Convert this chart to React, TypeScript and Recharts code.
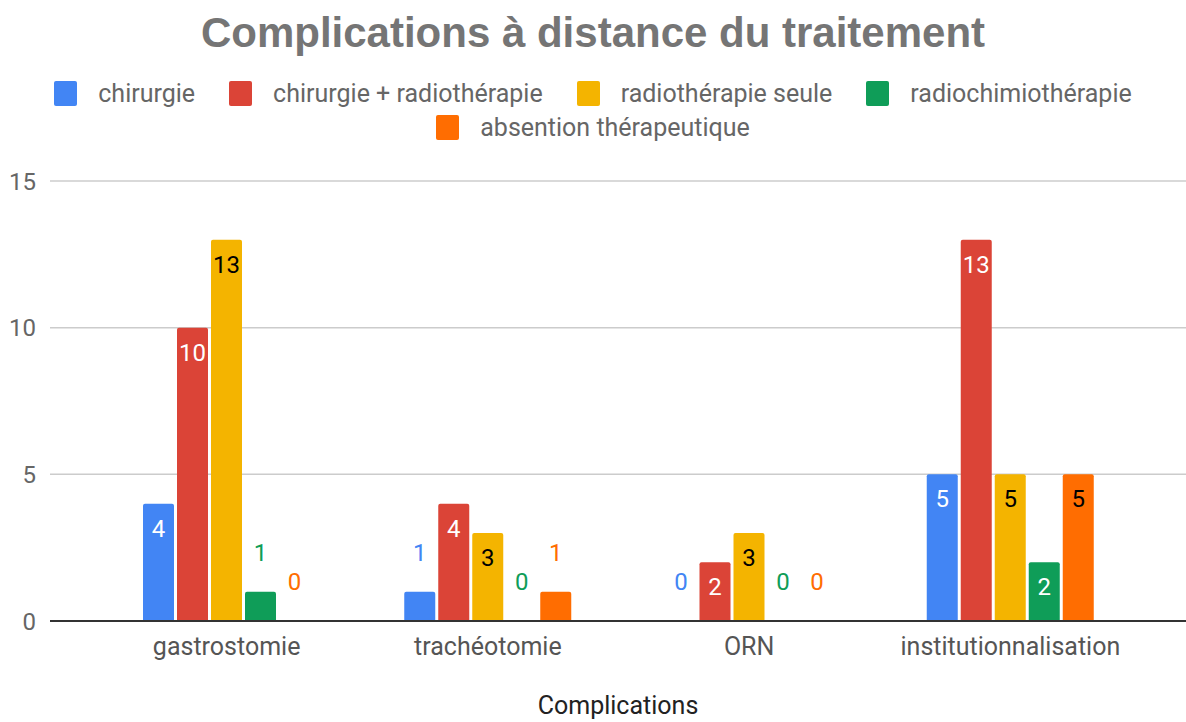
import { Bar, BarChart, CartesianGrid, LabelList, Legend, ReferenceLine, XAxis, YAxis } from 'recharts';

const categories = ['gastrostomie', 'trachéotomie', 'ORN', 'institutionnalisation'];
const chirurgie = [4, 1, 0, 5];
const chirurgieRadio = [10, 4, 2, 13];
const radioSeule = [13, 3, 3, 5];
const radiochimio = [1, 0, 0, 2];
const abstention = [0, 1, 0, 5];
const yTicks = [0, 5, 10, 15];

const series = [
  { key: 'chirurgie', name: 'chirurgie', values: chirurgie, color: '#4285F4', ink: '#ffffff' },
  { key: 'chirRadio', name: 'chirurgie + radiothérapie', values: chirurgieRadio, color: '#DB4437', ink: '#ffffff' },
  { key: 'radioSeule', name: 'radiothérapie seule', values: radioSeule, color: '#F4B400', ink: '#000000' },
  { key: 'radiochimio', name: 'radiochimiothérapie', values: radiochimio, color: '#0F9D58', ink: '#ffffff' },
  { key: 'abstention', name: 'absention thérapeutique', values: abstention, color: '#FF6D01', ink: '#000000' },
];

const data = categories.map((name, i) => {
  const row: Record<string, string | number> = { name };
  series.forEach((s) => (row[s.key] = s.values[i]));
  return row;
});

const font = 'Roboto, "Noto Sans", sans-serif';

// values >= 2 sit inside the bar top, smaller ones float above it in the bar colour
const makeLabel = (color: string, ink: string) => (props: any) => {
  const { x, y, width, height, value } = props;
  const top = Number(y) + Math.min(0, Number(height));
  const inside = Number(value) >= 2;
  return (
    <text
      x={Number(x) + Number(width) / 2}
      y={inside ? top + 33 : top - 31}
      textAnchor="middle"
      fontFamily={font}
      fontSize={24}
      fill={inside ? ink : color}
    >
      {value}
    </text>
  );
};

function LegendBox() {
  return (
    <div
      style={{
        width: 1140,
        margin: '0 auto',
        display: 'flex',
        flexWrap: 'wrap',
        justifyContent: 'center',
        rowGap: 9,
        fontFamily: font,
        fontSize: 25,
        color: '#666666',
      }}
    >
      {series.map((s) => (
        <div key={s.key} style={{ display: 'flex', alignItems: 'center', margin: '0 17px', height: 25 }}>
          <span style={{ width: 23, height: 25, background: s.color, borderRadius: 2, marginRight: 21 }} />
          <span>{s.name}</span>
        </div>
      ))}
    </div>
  );
}

export default function App() {
  return (
    <div style={{ position: 'absolute', left: 0, top: 0, width: 1186, height: 722, background: '#fff' }}>
      <div
        style={{
          position: 'absolute',
          top: 8,
          width: 1186,
          textAlign: 'center',
          fontFamily: '"Liberation Sans", Arial, sans-serif',
          fontWeight: 'bold',
          fontSize: 42,
          color: '#757575',
          lineHeight: '50px',
        }}
      >
        Complications à distance du traitement
      </div>
      <BarChart
        width={1186}
        height={722}
        data={data}
        margin={{ top: 81, right: 0, left: 0, bottom: 0 }}
        barSize={31}
        barGap={3}
      >
        <Legend
          verticalAlign="top"
          align="center"
          wrapperStyle={{ left: 0, width: 1186, height: 100 }}
          content={() => <LegendBox />}
        />
        <CartesianGrid vertical={false} stroke="#cccccc" strokeWidth={1.5} />
        <XAxis
          dataKey="name"
          height={101}
          padding={{ left: 46, right: 45 }}
          axisLine={false}
          tickLine={false}
          tickMargin={10}
          tick={{ fontFamily: font, fontSize: 25, fill: '#555555' }}
          label={{
            value: 'Complications',
            position: 'insideBottom',
            offset: 8,
            style: { fontFamily: font, fontSize: 25, fill: '#222222' },
          }}
        />
        <YAxis
          width={50}
          domain={[0, 15]}
          ticks={yTicks}
          axisLine={false}
          tickLine={false}
          tickSize={0}
          tickMargin={14}
          tick={{ fontFamily: font, fontSize: 24, fill: '#666666' }}
        />
        {series.map((s) => (
          <Bar
            key={s.key}
            dataKey={s.key}
            name={s.name}
            fill={s.color}
            radius={[2, 2, 0, 0]}
            minPointSize={0.01}
            isAnimationActive={false}
          >
            <LabelList dataKey={s.key} content={makeLabel(s.color, s.ink)} />
          </Bar>
        ))}
        <ReferenceLine y={0} stroke="#333333" strokeWidth={2} />
      </BarChart>
    </div>
  );
}
